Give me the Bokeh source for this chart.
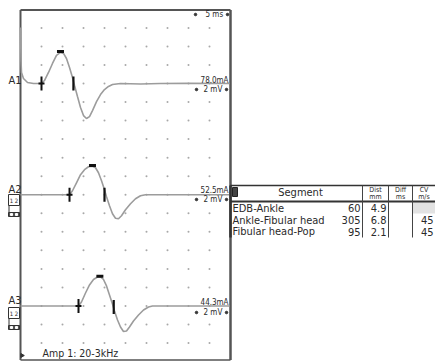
from bokeh.plotting import figure
from bokeh.models import Range1d
from bokeh.embed import file_html
from bokeh.resources import INLINE
from bokeh.core.properties import value

# ---------------- data (ms, mV relative to each trace baseline) ----------------
a1_t = [0.0, 0.12, 0.24, 0.71, 1.67, 3.1, 5.0, 5.7, 6.67, 7.62, 8.57, 9.52, 10.24,
        10.95, 11.67, 12.38, 12.86, 13.57, 14.29, 15.0, 15.71, 16.43, 17.14, 18.1,
        19.05, 20.0, 20.95, 21.9, 23.8, 28.6, 33.3, 40.0, 49.8]
a1_v = [6.05, 2.49, 1.19, 0.54, 0.11, 0.0, 0.0, 0.32, 1.19, 2.16, 3.03, 3.35, 3.24,
        2.70, 1.73, 0.65, -0.22, -1.41, -2.59, -3.46, -3.78, -3.57, -2.92, -1.95,
        -1.19, -0.65, -0.32, -0.11, 0.0, -0.05, 0.0, 0.02, 0.0]

a2_t = [0.0, 11.67, 12.38, 13.33, 14.29, 15.24, 16.19, 17.14, 17.86, 18.57, 19.29,
        20.0, 20.48, 21.19, 21.90, 22.62, 23.33, 24.05, 25.0, 26.19, 27.38, 28.57,
        29.76, 49.8]
a2_v = [0.0, 0.0, 0.43, 1.29, 2.16, 2.70, 3.02, 3.07, 2.91, 2.37, 1.51, 0.54, -0.22,
        -1.19, -2.05, -2.54, -2.59, -2.27, -1.62, -0.97, -0.43, -0.11, 0.0, 0.0]

a3_t = [0.0, 13.81, 14.52, 15.48, 16.43, 17.38, 18.33, 19.05, 19.76, 20.48, 21.19,
        21.90, 22.38, 23.10, 23.81, 24.52, 25.24, 25.95, 26.90, 28.10, 29.29, 30.48,
        31.43, 49.8]
a3_v = [0.0, 0.0, 0.43, 1.40, 2.27, 2.86, 3.13, 3.13, 2.86, 2.16, 1.19, 0.22, -0.54,
        -1.51, -2.27, -2.75, -2.70, -2.27, -1.62, -0.97, -0.43, -0.11, 0.0, 0.0]

trace_names = ["A1", "A2", "A3"]
trace_offsets = [0, -12, -24]          # mV (6 divisions of 2 mV)
stim_labels = ["78.0mA", "52.5mA", "44.3mA"]
gain_label = "2 mV"
sweep_label = "5 ms"
filter_label = "Amp 1: 20-3kHz"

onset_ms = [5.0, 11.67, 13.81]
peak_ms = [9.52, 17.14, 18.9]
peak_mv = [3.45, 3.15, 3.2]
neg_ms = [12.6, 20.0, 22.2]
neg_mv = [0.0, 0.0, -0.1]

seg_names = ["EDB-Ankle", "Ankle-Fibular head", "Fibular head-Pop"]
dist_mm = ["60", "305", "95"]
diff_ms = ["4.9", "6.8", "2.1"]
cv_mps = ["", "45", "45"]
col_heads = [("Dist", "mm"), ("Diff", "ms"), ("CV", "m/s")]

# ---------------- layout helpers (image pixel -> data) ----------------
def X(px):
    return (px - 20) / 4.2

def Y(py):
    return (83 - py) / 9.27

FONT = value("DejaVu Sans Condensed, Liberation Sans, sans-serif")
TXT = "#2a2a2a"

p = figure(width=435, height=361, output_backend="svg", toolbar_location=None,
           x_range=Range1d(X(0), X(435)), y_range=Range1d(Y(361), Y(0)),
           min_border=0, border_fill_color="white", background_fill_color="white")
p.axis.visible = False
p.grid.visible = False
p.outline_line_color = None

# grid dots
gx, gy = [], []
for i in range(1, 10):
    for j in range(18):
        gx.append(i * 5)
        gy.append(6 - 2 * j)
p.scatter(gx, gy, size=2, color="#a8a8a8", line_color=None)

# frame
f_l, f_r, f_t, f_b = 0, 50, Y(9.5), Y(359.5)
p.segment([f_l, f_l, f_l, f_r], [f_b, f_t, f_b, f_b], [f_r, f_r, f_l, f_r], [f_b, f_t, f_t, f_t],
          line_color="#555555", line_width=[1.5, 2, 2, 2.5])

# traces
traces = [(a1_t, a1_v), (a2_t, a2_v), (a3_t, a3_v)]
for k, (t, v) in enumerate(traces):
    off = trace_offsets[k]
    p.line(t, [vv + off for vv in v], line_color="#9c9c9c", line_width=1.6)

# cursors
on_y = [trace_offsets[k] for k in range(3)]
p.scatter(onset_ms, on_y, marker="dash", angle=1.5708, size=14, line_color="#111111", line_width=2)
p.scatter(onset_ms, on_y, marker="dash", size=6, line_color="#111111", line_width=2)
p.scatter(peak_ms, [peak_mv[k] + trace_offsets[k] for k in range(3)], marker="dash", size=7,
          line_color="#111111", line_width=3)
p.scatter(neg_ms, [neg_mv[k] + trace_offsets[k] for k in range(3)], marker="dash", angle=1.5708,
          size=14, line_color="#111111", line_width=2.2)

# left labels
lab_y = [80, 189, 300]
p.text([X(8)] * 3, [Y(y) for y in lab_y], text=trace_names, text_font=FONT,
       text_font_size="11px", text_color=TXT, text_baseline="middle", text_align="left")
# small channel boxes for A2 and A3
for by in [194, 307]:
    p.quad(left=[X(8)], right=[X(19)], top=[Y(by)], bottom=[Y(by + 11)],
           fill_color="white", line_color="#333333", line_width=1)
    p.text([X(13.5)], [Y(by + 5.5)], text=["1 2"], text_font=FONT, text_font_size="6px",
           text_color=TXT, text_align="center", text_baseline="middle")
    p.quad(left=[X(8)], right=[X(19)], top=[Y(by + 18)], bottom=[Y(by + 22)],
           fill_color="#555555", line_color="#333333", line_width=1)
    p.scatter([X(11), X(16)], [Y(by + 20)] * 2, marker="square", size=2, color="white")
    p.segment([X(8.5)], [Y(by + 11)], [X(8.5)], [Y(by + 18)], line_color="#333333", line_width=1)

# right-side labels
ma_y = [80, 190, 302]
p.text([X(228)] * 3, [Y(y) for y in ma_y], text=stim_labels, text_font=FONT,
       text_font_size="8px", text_color=TXT, text_align="right", text_baseline="middle")
gain_y = [89, 199, 312]
p.text([X(203)] * 3, [Y(y) for y in gain_y], text=[gain_label] * 3, text_font=FONT,
       text_font_size="8px", text_color=TXT, text_align="left", text_baseline="middle")
p.scatter([X(196)] * 3 + [X(226)] * 3, [Y(y) for y in gain_y] * 2, size=2.5, color="#333333")
p.text([X(205)], [Y(14)], text=[sweep_label], text_font=FONT, text_font_size="8px",
       text_color=TXT, text_align="left", text_baseline="middle")
p.scatter([X(195), X(227)], [Y(14), Y(14)], size=2.5, color="#333333")
p.text([X(42)], [Y(352.5)], text=[filter_label], text_font=FONT, text_font_size="10.5px",
       text_color=TXT, text_align="left", text_baseline="middle")
p.scatter([X(21.5)], [Y(355)], marker="triangle", angle=-1.5708, size=4, color="#333333")

# ---------------- table ----------------
t_l, t_r, t_t, t_h, t_b = 230, 436, 185, 201, 237
col_x = [362, 388, 412]
p.quad(left=[X(412)], right=[X(435)], top=[Y(201.5)], bottom=[Y(213)],
       fill_color="#e2e2e2", line_color=None)
p.segment([X(t_l)], [Y(t_t)], [X(t_r)], [Y(t_t)], line_color="#333333", line_width=1.5)
p.segment([X(t_l)], [Y(t_h)], [X(t_r)], [Y(t_h)], line_color="#333333", line_width=2)
p.segment([X(t_l)], [Y(t_t)], [X(t_l)], [Y(t_b)], line_color="#333333", line_width=2.5)
p.segment([X(c) for c in col_x], [Y(t_t)] * 3, [X(c) for c in col_x], [Y(t_b)] * 3,
          line_color="#444444", line_width=1)
p.quad(left=[X(232)], right=[X(237)], top=[Y(187)], bottom=[Y(196)],
       fill_color="#444444", line_color="#222222")
p.text([X(300)], [Y(192)], text=["Segment"], text_font=FONT, text_font_size="11px",
       text_color=TXT, text_align="center", text_baseline="middle")
col_c = [375, 400, 423.5]
p.text([X(c) for c in col_c], [Y(189)] * 3, text=[h[0] for h in col_heads], text_font=FONT,
       text_font_size="7px", text_color=TXT, text_align="center", text_baseline="middle")
p.text([X(c) for c in col_c], [Y(196)] * 3, text=[h[1] for h in col_heads], text_font=FONT,
       text_font_size="7px", text_color=TXT, text_align="center", text_baseline="middle")
row_y = [207.5, 219.5, 231]
p.text([X(232)] * 3, [Y(y) for y in row_y], text=seg_names, text_font=FONT,
       text_font_size="11px", text_color=TXT, text_align="left", text_baseline="middle")
p.text([X(360)] * 3, [Y(y) for y in row_y], text=dist_mm, text_font=FONT,
       text_font_size="11px", text_color=TXT, text_align="right", text_baseline="middle")
p.text([X(386)] * 3, [Y(y) for y in row_y], text=diff_ms, text_font=FONT,
       text_font_size="11px", text_color=TXT, text_align="right", text_baseline="middle")
p.text([X(433)] * 3, [Y(y) for y in row_y], text=cv_mps, text_font=FONT,
       text_font_size="11px", text_color=TXT, text_align="right", text_baseline="middle")

open("out.html", "w").write(file_html(p, INLINE))
